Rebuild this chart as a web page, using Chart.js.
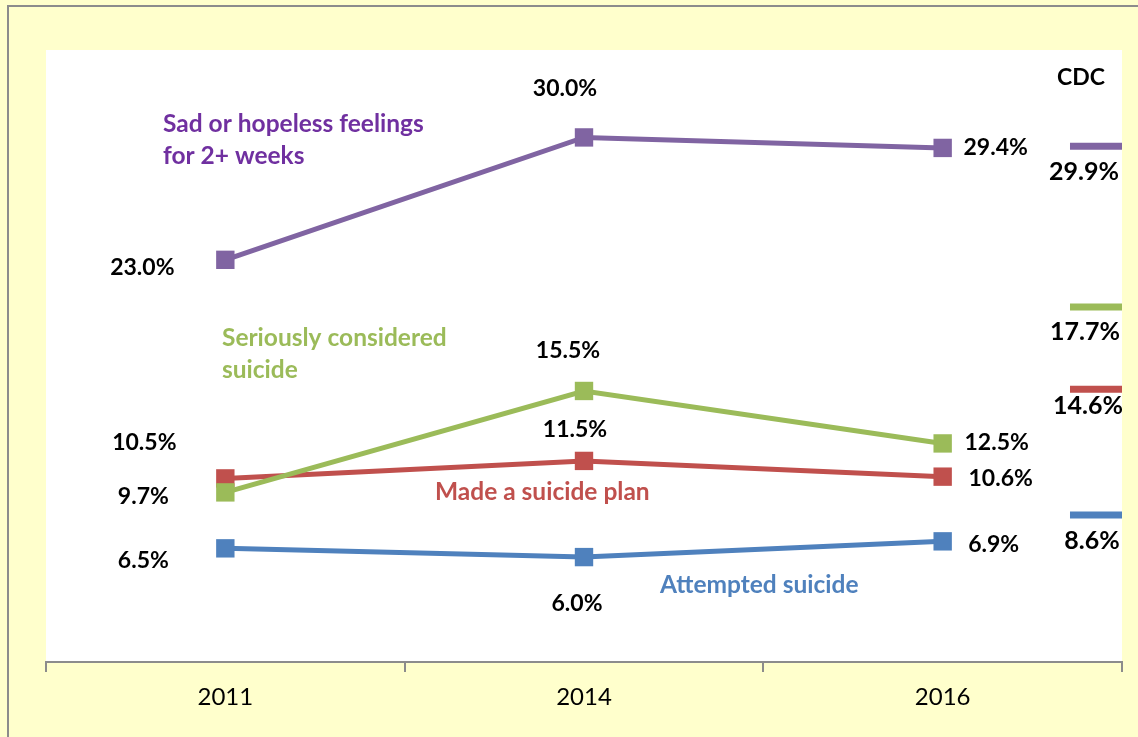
<!DOCTYPE html>
<html>
<head>
<meta charset="utf-8">
<script src="https://cdn.jsdelivr.net/npm/chart.js@4.4.1/dist/chart.umd.min.js"></script>
<style>
  html, body { margin: 0; padding: 0; background: #fff; }
  #wrap { position: relative; width: 1138px; height: 737px; background: #FFFFCC; }
  #frame { position: absolute; left: 7px; top: 5px; width: 1140px; height: 740px; border: 2px solid #8c8c8c; box-sizing: border-box; }
  canvas { position: absolute; left: 0; top: 0; }
</style>
</head>
<body>
<div id="wrap">
  <div id="frame"></div>
  <canvas id="chart" width="1138" height="737"></canvas>
</div>
<script>
// survey years
const years = ["2011", "2014", "2016"];

// series values (%)
const sadHopeless = [23.0, 30.0, 29.4];
const consideredSuicide = [9.7, 15.5, 12.5];
const suicidePlan = [10.5, 11.5, 10.6];
const attemptedSuicide = [6.5, 6.0, 6.9];

// CDC comparison: printed value and the level its marker is drawn at
const cdcValues = [29.9, 17.7, 14.6, 8.6];
const cdcMarkLevels = [29.5, 20.3, 15.6, 8.4];

const purple = "#8064A2", green = "#9BBB59", red = "#C0504D", blue = "#4F81BD";
const FONT = "Lato, 'Open Sans', sans-serif";

// label offsets from each point (px)
const series = [
  { name: ["Sad or hopeless feelings", "for 2+ weeks"], data: sadHopeless, color: purple, text: "#7030A0",
    nameAt: [163, 124], off: [[-83, 8], [-19, -49], [53, 0]] },
  { name: ["Seriously considered", "suicide"], data: consideredSuicide, color: green, text: green,
    nameAt: [222, 338], off: [[-82, 4], [-16, -40], [54, -1]] },
  { name: ["Made a suicide plan"], data: suicidePlan, color: red, text: red,
    nameAt: [435, 492], off: [[-81, -36], [-9, -31], [58, 2]] },
  { name: ["Attempted suicide"], data: attemptedSuicide, color: blue, text: blue,
    nameAt: [660, 585], off: [[-82, 12], [-7, 46], [51, 3]] },
];
const cdcColors = [purple, green, red, blue];
const cdcLabelOff = [[-18, 26], [-17, 25], [-14, 17], [-10, 26]];

const datasets = series.map(s => ({
  data: s.data,
  borderColor: s.color,
  backgroundColor: s.color,
  borderWidth: 5,
  pointStyle: "rect",
  pointRadius: 13,
  pointHoverRadius: 13,
  pointBorderWidth: 0,
  tension: 0,
  xAxisID: "x",
}));
cdcMarkLevels.forEach((v, i) => {
  datasets.push({
    data: [{ x: 2.355, y: v }, { x: 2.5, y: v }],
    borderColor: cdcColors[i],
    borderWidth: 7,
    borderCapStyle: "butt",
    pointRadius: 0,
    xAxisID: "xc",
    clip: false,
  });
});

const labelPlugin = {
  id: "labels",
  afterDatasetsDraw(chart) {
    const ctx = chart.ctx;
    ctx.save();
    ctx.textBaseline = "middle";
    series.forEach((s, si) => {
      const meta = chart.getDatasetMeta(si);
      ctx.font = "bold 23px " + FONT;
      ctx.fillStyle = "#000";
      ctx.textAlign = "center";
      meta.data.forEach((pt, i) => {
        ctx.fillText(s.data[i].toFixed(1) + "%", pt.x + s.off[i][0], pt.y + s.off[i][1]);
      });
      ctx.font = "bold 24.5px " + FONT;
      ctx.textAlign = "left";
      ctx.fillStyle = s.text;
      s.name.forEach((line, li) => ctx.fillText(line, s.nameAt[0], s.nameAt[1] + li * 32));
    });
    // CDC column
    ctx.fillStyle = "#000";
    ctx.textAlign = "center";
    ctx.font = "bold 23px " + FONT;
    ctx.fillText("CDC", 1081, 78);
    ctx.font = "bold 25px " + FONT;
    cdcValues.forEach((v, i) => {
      const meta = chart.getDatasetMeta(series.length + i);
      const p = meta.data[1];
      ctx.fillText(v.toFixed(1) + "%", p.x - 20 + cdcLabelOff[i][0], p.y + cdcLabelOff[i][1]);
    });
    ctx.restore();
  }
};

const plotBg = {
  id: "plotBg",
  beforeDraw(chart) {
    const { ctx, chartArea: a } = chart;
    ctx.save();
    ctx.fillStyle = "#ffffff";
    ctx.fillRect(a.left, a.top, a.right - a.left, a.bottom - a.top);
    ctx.restore();
  }
};

new Chart(document.getElementById("chart"), {
  type: "line",
  data: { labels: years, datasets },
  options: {
    responsive: false,
    animation: false,
    layout: { padding: { left: 46, top: 50, right: 16, bottom: 0 } },
    plugins: { legend: { display: false }, tooltip: { enabled: false } },
    scales: {
      x: {
        type: "category",
        offset: true,
        grid: { offset: true, drawOnChartArea: false, tickLength: 10, color: "#8c8c8c", lineWidth: 2 },
        border: { color: "#8c8c8c", width: 2 },
        ticks: { color: "#000", font: { family: FONT, size: 24 }, padding: 11, maxRotation: 0 },
        afterFit(scale) { scale.height = 75; },
      },
      xc: { type: "linear", display: false, min: -0.5, max: 2.5 },
      y: { display: false, min: 0, max: 35 },
    },
  },
  plugins: [plotBg, labelPlugin],
});
</script>
</body>
</html>
